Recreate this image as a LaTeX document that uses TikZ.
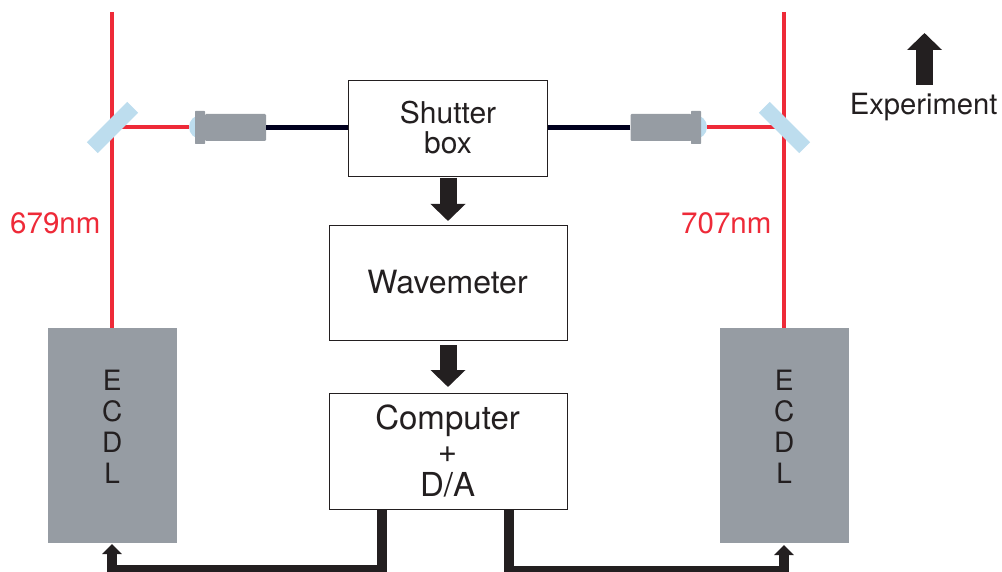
\documentclass[tikz,border=0pt]{standalone}
\usepackage{fontspec}
\setmainfont{TeX Gyre Heros}
\usetikzlibrary{arrows.meta}
\definecolor{ink}{HTML}{231F20}
\definecolor{beam}{HTML}{EE2A38}
\definecolor{glass}{HTML}{BDDDEE}
\definecolor{metal}{HTML}{969CA3}
\definecolor{fibre}{HTML}{00001E}
\tikzset{
  x=1pt,y=-1pt,
  box/.style={draw=ink,line width=1.1pt,fill=white,inner sep=0pt,align=center,text=ink,anchor=north west},
  laser/.style={fill=metal,inner sep=0pt,anchor=north west,minimum width=129pt,minimum height=215pt},
  laserlab/.style={inner sep=0pt,align=center,text=ink,yshift=9pt,xshift=-.5pt,font=\fontsize{28}{31}\selectfont},
  mirror/.style={fill=glass,inner sep=0pt,minimum width=57pt,minimum height=15.5pt},
  body/.style={fill=metal,inner sep=0pt,minimum width=61pt,minimum height=27pt,rounded corners=1.2pt},
  flange/.style={fill=metal,inner sep=0pt,minimum width=10pt,minimum height=33pt,rounded corners=.6pt},
  lens/.style={circle,fill=glass,inner sep=0pt,minimum size=24pt},
  ray/.style={draw=beam,line width=3.6pt},
  fibreline/.style={draw=fibre,line width=4.8pt},
  block/.style={draw=ink,line width=17pt,-{Triangle[length=17pt,width=34pt]}},
  wire/.style={draw=ink,line width=10pt,-{Triangle[length=10pt,width=19pt]}},
  lab/.style={inner sep=0pt,text=beam,font=\fontsize{29.5}{33}\selectfont}
}
\begin{document}
\begin{tikzpicture}
\useasboundingbox (0,0) rectangle (1002,572);
% boxes
\node[box,minimum width=199pt,minimum height=96pt] (shutter) at (348,80) {};
\node[inner sep=0pt,align=center,text=ink,font=\fontsize{30}{30}\selectfont,yshift=1pt] (shutterlab) at (shutter.center) {Shutter\\box};
\node[box,minimum width=238pt,minimum height=115pt] (wavemeter) at (328.5,225) {};
\node[inner sep=0pt,text=ink,font=\fontsize{32}{36}\selectfont,yshift=1pt,xshift=-.5pt] (wavelab) at (wavemeter.center) {Wavemeter};
\node[box,minimum width=238pt,minimum height=116pt] (computer) at (328.5,393) {};
\node[inner sep=0pt,align=center,text=ink,font=\fontsize{33}{33.5}\selectfont,yshift=1pt,xshift=-.5pt] (complab) at (computer.center) {Computer\\+\\D/A};
\node[laser] (ecdlL) at (48,328) {};
\node[laser] (ecdlR) at (720,328) {};
\node[laserlab] (ecdlLlab) at (ecdlL.center) {E\\C\\D\\L};
\node[laserlab] (ecdlRlab) at (ecdlR.center) {E\\C\\D\\L};
% coordinates
\coordinate (topL) at (112,12);
\coordinate (topR) at (784,12);
\coordinate (mL) at (112,127);
\coordinate (mR) at (784,127);
% optics
\node[lens] (lensL) at (201,127) {};
\node[lens] (lensR) at (695,127) {};
\draw[ray] (topL) -- (ecdlL.north -| topL);
\draw[ray] (topR) -- (ecdlR.north -| topR);
\draw[ray] (mL) -- (lensL.west);
\draw[ray] (mR) -- (lensR.east);
\node[mirror,rotate=45] (mirrorL) at (112.5,127.5) {};
\node[mirror,rotate=-45] (mirrorR) at (784.5,127.5) {};
\node[flange] (flangeL) at (200,127.5) {};
\node[body] (bodyL) at (235.5,127.5) {};
\node[flange] (flangeR) at (696,127.5) {};
\node[body] (bodyR) at (661,127.5) {};
\draw[fibreline] (bodyL.east) -- (shutter.west |- bodyL);
\draw[fibreline] (bodyR.west) -- (shutter.east |- bodyR);
% flow arrows
\coordinate (a1) at (448,178);
\coordinate (a2) at (448,221);
\coordinate (a3) at (448,345);
\coordinate (a4) at (448,387);
\draw[block] (a1) -- (a2);
\draw[block] (a3) -- (a4);
% experiment
\node[inner sep=0pt,text=ink,font=\fontsize{29.2}{33}\selectfont,anchor=base] (exp) at (923.7,114.5) {Experiment};
\coordinate (e1) at (924.5,85);
\coordinate (e2) at (924.5,33);
\draw[block] (e1) -- (e2);
% labels
\node[lab,anchor=base west] (l679) at (10,234) {679nm};
\node[lab,anchor=base west] (l707) at (681,234) {707nm};
% bottom wires
\coordinate (wL) at (382,509);
\coordinate (wR) at (509,509);
\coordinate (tL) at (112,544);
\coordinate (tR) at (784,545);
\coordinate (bL) at (382,570);
\coordinate (bR) at (509,571);
\draw[wire] (wL) -- (bL) -- (bL -| tL) -- (tL);
\draw[wire] (wR) -- (bR) -- (bR -| tR) -- (tR);
\end{tikzpicture}
\end{document}
